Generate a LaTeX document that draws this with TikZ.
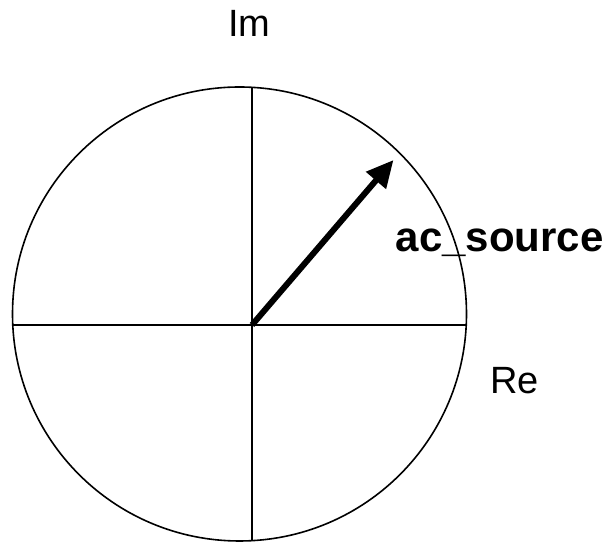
\documentclass[tikz,border=0pt]{standalone}
\usepackage{fontspec}
\setmainfont{Liberation Sans}
\usetikzlibrary{arrows.meta}
\begin{document}
\begin{tikzpicture}[x=1pt,y=1pt,
  axisline/.style={line width=1.6pt,black},
  vecline/.style={line width=6pt,black,-{Triangle[length=27pt,width=25pt]}},
  lbl/.style={inner sep=0pt,anchor=base west,font=\fontsize{38}{40}\selectfont}]
\useasboundingbox (0,0) rectangle (608,545);
% circle (slightly offset from axes crossing, as in the reference)
\draw[axisline] (239.5,231) circle[radius=227];
\coordinate (O) at (252,220);
\coordinate (top) at (252,457.66);
\coordinate (bot) at (252,4.34);
\coordinate (left) at (12.77,220);
\coordinate (right) at (466.2,220);
\coordinate (tip) at (393.5,385);
\draw[axisline] (top) -- (bot);
\draw[axisline] (left) -- (right);
\draw[vecline] (O) -- (tip);
\node[lbl] (im) at (228,508) {Im};
\node[lbl] (re) at (490.3,151) {Re};
\node[lbl,font=\fontsize{42}{44}\selectfont\bfseries] (src) at (395.7,293.3) {ac\_source};
\end{tikzpicture}
\end{document}
